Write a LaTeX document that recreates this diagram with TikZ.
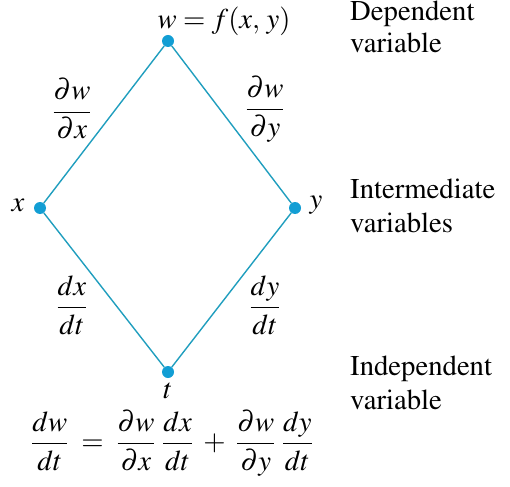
\documentclass[tikz,border=0pt]{standalone}
\usepackage{amsmath}
\usepackage[T1]{fontenc}
\usepackage{mathptmx}
\definecolor{linkcol}{RGB}{32,158,190}
\definecolor{dotcol}{RGB}{18,158,212}
\begin{document}
\begin{tikzpicture}[x=1pt,y=-1pt,
  dot/.style={circle,fill=dotcol,inner sep=0pt,minimum size=12pt},
  link/.style={draw=linkcol,line width=1.4pt},
  lbl/.style={inner sep=0pt,font=\fontsize{28.7}{34}\selectfont},
  side/.style={lbl,align=left,anchor=base west}]
\useasboundingbox (0,0) rectangle (510,486);
\node[dot] (w) at (168,41) {};
\node[dot] (x) at (40,208) {};
\node[dot] (y) at (295,208) {};
\node[dot] (t) at (168,372) {};
\draw[link] (w) -- (x);
\draw[link] (x) -- (t);
\draw[link] (t) -- (y);
\draw[link] (y) -- (w);
\node[lbl,anchor=base] (wl) at (224,29) {$w = f(x,\, y)$};
\node[lbl] (xl) at (18,205) {$x$};
\node[lbl] (yl) at (316,205) {$y$};
\node[lbl,anchor=base] (tl) at (168,398) {$t$};
\node[lbl] (dwdx) at (72,109) {$\dfrac{\partial w}{\partial x}$};
\node[lbl] (dwdy) at (265,109) {$\dfrac{\partial w}{\partial y}$};
\node[lbl] (dxdt) at (72,305) {$\dfrac{dx}{dt}$};
\node[lbl] (dydt) at (265,305) {$\dfrac{dy}{dt}$};
\node[side,font=\fontsize{28.7}{32}\selectfont] (dep) at (350,53) {Dependent\\variable};
\node[side] (inter) at (350,232) {Intermediate\\variables};
\node[side] (indep) at (350,409) {Independent\\variable};
\node[lbl,anchor=west] (eq) at (31,443) {$\dfrac{dw}{dt} \;=\; \dfrac{\partial w}{\partial x}\;\dfrac{dx}{dt} \;+\; \dfrac{\partial w}{\partial y}\;\dfrac{dy}{dt}$};
\end{tikzpicture}
\end{document}
